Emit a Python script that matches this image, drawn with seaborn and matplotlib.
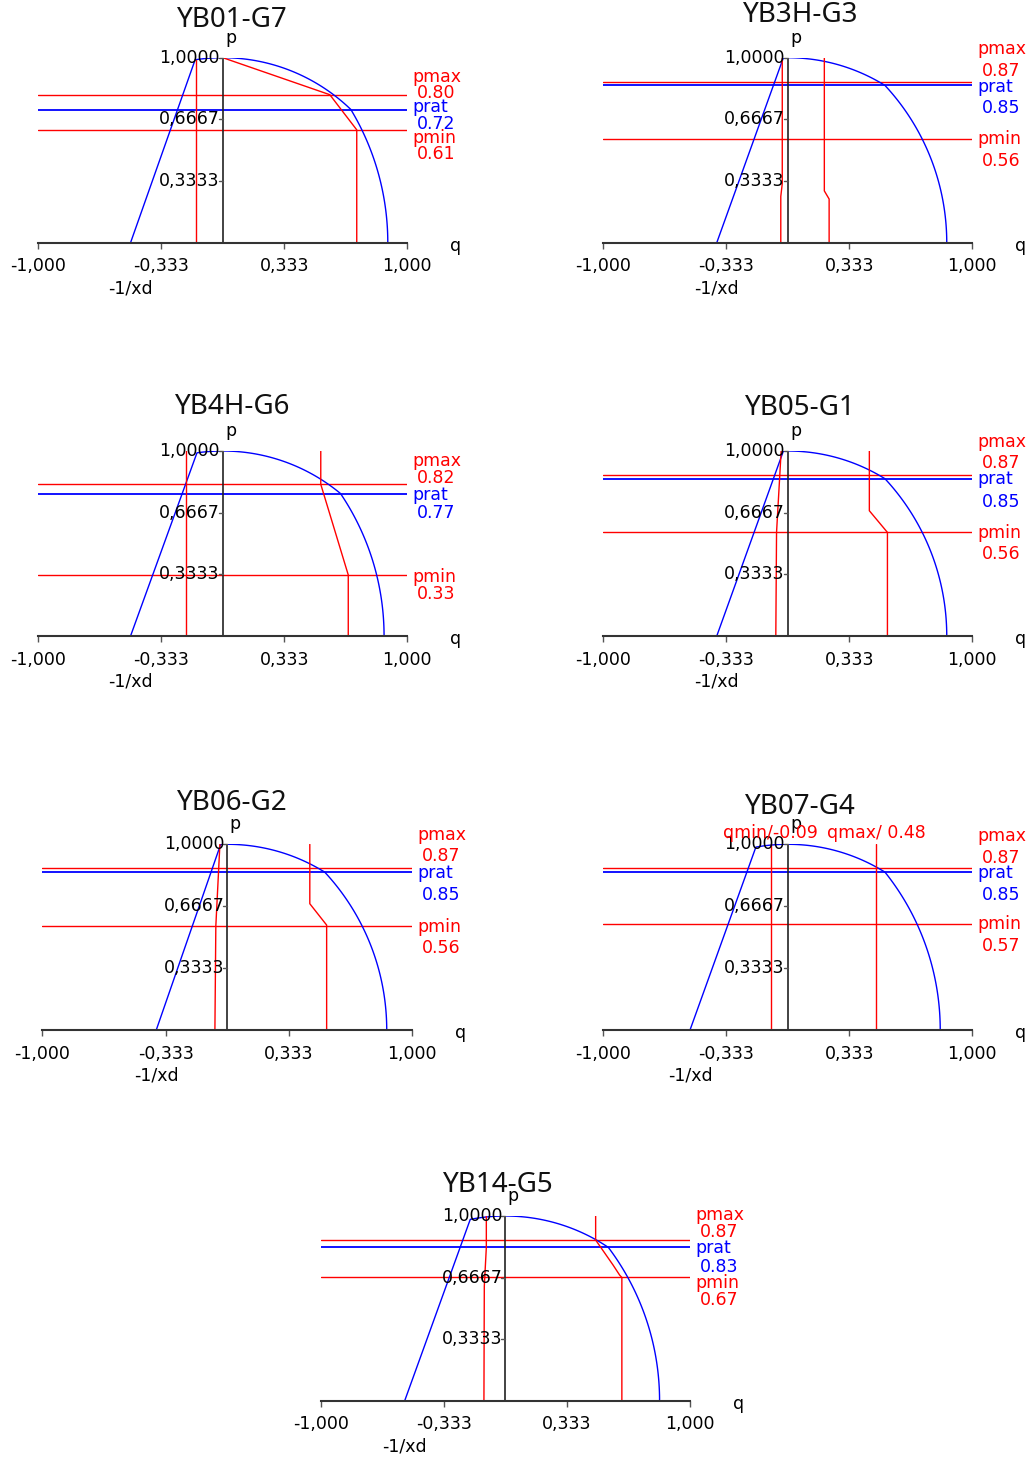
import numpy as np
import matplotlib
matplotlib.use("Agg")
import matplotlib.pyplot as plt
import seaborn as sns

# ---- data ----
titles = ["YB01-G7", "YB3H-G3", "YB4H-G6", "YB05-G1", "YB06-G2", "YB07-G4", "YB14-G5"]
xd_q = [-0.50, -0.385, -0.50, -0.385, -0.384, -0.53, -0.545]      # -1/xd on the q axis
lead_q = [-0.15, -0.024, -0.14, -0.024, -0.036, -0.173, -0.19]    # where the -1/xd line meets the unit circle
pmax = [0.80, 0.87, 0.82, 0.87, 0.87, 0.87, 0.87]
prat = [0.72, 0.85, 0.77, 0.85, 0.85, 0.85, 0.83]
pmin = [0.61, 0.56, 0.33, 0.56, 0.56, 0.57, 0.67]

qmin_q = [[-0.145, -0.145],
          [-0.038, -0.038, -0.030, -0.030],
          [-0.20, -0.20],
          [-0.065, -0.061, -0.036],
          [-0.067, -0.062, -0.040],
          [-0.092, -0.092],
          [-0.116, -0.114, -0.103, -0.103]]
qmin_p = [[0.0, 0.985],
          [0.0, 0.25, 0.32, 1.0],
          [0.0, 1.0],
          [0.0, 0.56, 1.0],
          [0.0, 0.56, 1.0],
          [0.0, 1.0],
          [0.0, 0.62, 0.83, 1.0]]
qmax_q = [[0.726, 0.726, 0.58, 0.0],
          [0.224, 0.224, 0.198, 0.198],
          [0.68, 0.68, 0.531, 0.531],
          [0.54, 0.54, 0.442, 0.442],
          [0.537, 0.537, 0.446, 0.446],
          [0.479, 0.479],
          [0.631, 0.631, 0.619, 0.583, 0.489, 0.489]]
qmax_p = [[0.0, 0.61, 0.80, 1.0],
          [0.0, 0.236, 0.28, 1.0],
          [0.0, 0.33, 0.82, 1.0],
          [0.0, 0.56, 0.677, 1.0],
          [0.0, 0.565, 0.68, 1.0],
          [0.0, 1.0],
          [0.0, 0.667, 0.68, 0.735, 0.87, 1.0]]
q_notes = [None, None, None, None, None, ("qmin/-0.09", "qmax/ 0.48"), None]

x_ticks = [-1.0, -1 / 3, 1 / 3, 1.0]
x_tick_labels = ["-1,000", "-0,333", "0,333", "1,000"]
y_ticks = [1 / 3, 2 / 3, 1.0]
y_tick_labels = ["0,3333", "0,6667", "1,0000"]

# ---- layout (pixels in the 1035x1458 picture) ----
W, H = 1035, 1458
# q=-1 px, q=1 px, p=0 px, p=1 px
rects = [(38.3, 407.3, 242.7, 57.7), (603.3, 972.3, 242.7, 57.7),
         (38.3, 407.3, 636.0, 451.0), (603.3, 972.3, 636.0, 451.0),
         (42.3, 412.3, 1030.0, 844.3), (603.3, 972.3, 1030.0, 844.3),
         (320.7, 690.0, 1400.7, 1216.0)]
title_pos = [(232, 20), (801, 15), (233, 407), (800, 408), (232, 803), (800, 807), (498, 1185)]
# y px of: pmax name, pmax value, prat name, prat value, pmin name, pmin value
label_y = [(77, 93, 107, 124, 138, 154), (49, 71, 87, 108, 139, 161),
           (461, 478, 495, 513, 577, 594), (442, 463, 479, 502, 533, 554),
           (835, 856, 873, 895, 927, 948), (836, 858, 873, 895, 924, 946),
           (1215, 1232, 1248, 1267, 1283, 1300)]

RED = "#ff0000"
BLUE = "#0000ff"

sns.set_theme(style="white")
plt.rcParams["font.family"] = ["DejaVu Sans"]
plt.rcParams["text.color"] = "black"
plt.rcParams["xtick.color"] = "black"
FS = 12.5

fig = plt.figure(figsize=(W / 100, H / 100), dpi=100)

for i in range(len(titles)):
    x0, x1, y0, y1 = rects[i]
    ax = fig.add_axes([x0 / W, 1 - y0 / H, (x1 - x0) / W, (y0 - y1) / H])
    ax.patch.set_visible(False)
    ax.set_xlim(-1, 1)
    ax.set_ylim(0, 1)

    def qx(px):
        return -1 + 2 * (px - x0) / (x1 - x0)

    def py(px):
        return (y0 - px) / (y0 - y1)

    # capability boundary: -1/xd line, stator circle, rotor circle
    a_top = np.arccos(lead_q[i])
    q_k = np.sqrt(1 - prat[i] ** 2)
    a_k = np.arccos(q_k)
    arc = np.linspace(a_top, a_k, 60)
    r_rot = np.hypot(q_k - xd_q[i], prat[i])
    a_r = np.arctan2(prat[i], q_k - xd_q[i])
    arc2 = np.linspace(a_r, 0, 60)
    bq = np.concatenate([[xd_q[i]], np.cos(arc), xd_q[i] + r_rot * np.cos(arc2)])
    bp = np.concatenate([[0.0], np.sin(arc), r_rot * np.sin(arc2)])

    ax.axhline(pmax[i], color=RED, lw=1)
    ax.axhline(pmin[i], color=RED, lw=1)
    ax.axhline(prat[i], color=BLUE, lw=1.3)
    sns.lineplot(x=bq, y=bp, sort=False, estimator=None, color=BLUE, lw=1, ax=ax)
    sns.lineplot(x=qmin_q[i], y=qmin_p[i], sort=False, estimator=None, color=RED, lw=1, ax=ax)
    sns.lineplot(x=qmax_q[i], y=qmax_p[i], sort=False, estimator=None, color=RED, lw=1, ax=ax)

    # p axis through q=0
    ax.plot([0, 0], [0, 1], color="#222222", lw=1.2)
    tick_w = 2 * 4 / (x1 - x0)
    for yt, yl in zip(y_ticks, y_tick_labels):
        ax.plot([-tick_w, 0], [yt, yt], color="#555555", lw=1, clip_on=False)
        ax.text(qx(x0 + (x1 - x0) / 2 - 3), yt, yl, ha="right", va="center", fontsize=FS, color="black")

    # q axis
    sns.despine(ax=ax, left=True, top=True, right=True)
    ax.spines["bottom"].set_color("#333333")
    ax.spines["bottom"].set_linewidth(1.5)
    ax.set_xticks(x_ticks)
    ax.set_xticklabels(x_tick_labels, fontsize=FS, color="black")
    ax.set_yticks([])
    ax.tick_params(axis="x", direction="out", length=4, width=1, color="#555555", pad=6.5, bottom=True)
    ax.set_xlabel("")
    ax.set_ylabel("")

    ax.text(0.012, py(y1 - 20), "p", ha="left", va="center", fontsize=FS)
    ax.text(qx(x1 + 43), py(y0 + 3), "q", ha="left", va="center", fontsize=FS)
    ax.text(xd_q[i], py(y0 + 46), "-1/xd", ha="center", va="center", fontsize=FS)

    ly = label_y[i]
    nx, vx = qx(x1 + 5), qx(x1 + 10)
    ax.text(nx, py(ly[0]), "pmax", color=RED, ha="left", va="center", fontsize=FS)
    ax.text(vx, py(ly[1]), f"{pmax[i]:.2f}", color=RED, ha="left", va="center", fontsize=FS)
    ax.text(nx, py(ly[2]), "prat", color=BLUE, ha="left", va="center", fontsize=FS)
    ax.text(vx, py(ly[3]), f"{prat[i]:.2f}", color=BLUE, ha="left", va="center", fontsize=FS)
    ax.text(nx, py(ly[4]), "pmin", color=RED, ha="left", va="center", fontsize=FS)
    ax.text(vx, py(ly[5]), f"{pmin[i]:.2f}", color=RED, ha="left", va="center", fontsize=FS)

    if q_notes[i] is not None:
        ax.text(qmin_q[i][0], py(y1 - 11), q_notes[i][0], color=RED, ha="center", va="center", fontsize=FS)
        ax.text(qmax_q[i][0], py(y1 - 11), q_notes[i][1], color=RED, ha="center", va="center", fontsize=FS)

    tx, ty = title_pos[i]
    fig.text(tx / W, 1 - ty / H, titles[i], ha="center", va="center", fontsize=20,
             family=["Noto Sans", "DejaVu Sans"], color="#111111")

fig.savefig("out.png", dpi=100, facecolor="white")
